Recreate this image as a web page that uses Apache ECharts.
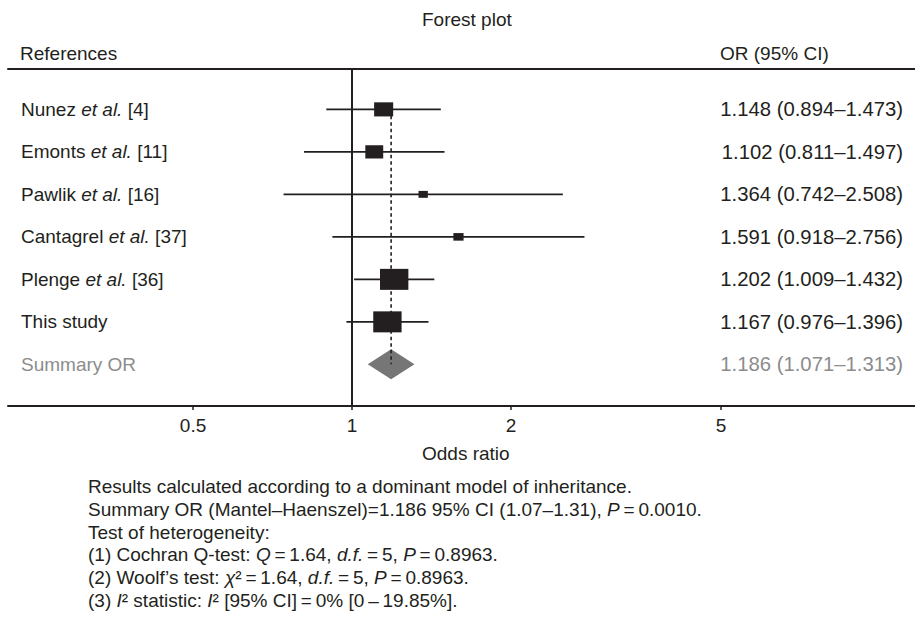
<!DOCTYPE html>
<html><head><meta charset="utf-8">
<script src="https://cdn.jsdelivr.net/npm/echarts@6/dist/echarts.min.js"></script>
<style>html,body{margin:0;padding:0;background:#fff}#c{width:915px;height:624px}</style>
</head><body><div id="c"></div>
<script>
// ---- data ----
const studies   = ['Nunez', 'Emonts', 'Pawlik', 'Cantagrel', 'Plenge', 'This study'];
const etAl      = [true, true, true, true, true, false];
const refs      = ['[4]', '[11]', '[16]', '[37]', '[36]', ''];
const orValues  = [1.148, 1.102, 1.364, 1.591, 1.202, 1.167];
const ciLow     = [0.894, 0.811, 0.742, 0.918, 1.009, 0.976];
const ciHigh    = [1.473, 1.497, 2.508, 2.756, 1.432, 1.396];
const weights   = [14.6, 12.9, 3.5, 4.2, 32.4, 32.4];   // estimated relative weights (box area)
const summaryLabel = 'Summary OR';
const summaryOR   = 1.186;
const summaryLow  = 1.071;
const summaryHigh = 1.313;
const tickValues  = [0.5, 1, 2, 5];
const tickLabels  = ['0.5', '1', '2', '5'];

// ---- styling ----
const INK = '#231f20';
const GREY_TXT = '#8c8c8c';
const GREY_FILL = '#767676';
const FONT = "'Liberation Sans', Arial, Helvetica, sans-serif";
const FS = 19;
const FS_CI = 20.3;

const nRows = studies.length + 1;
const rowPos = Array.from({length: nRows}, (_, i) => i + 1);
const fmt = v => v.toFixed(3);

const chart = echarts.init(document.getElementById('c'), null, {renderer: 'svg'});

const txt = {fontFamily: FONT, fontSize: FS, color: INK};
const richBase = {
  n: {fontFamily: FONT, fontSize: FS, color: INK},
  i: {fontFamily: FONT, fontSize: FS, color: INK, fontStyle: 'italic'},
  g: {fontFamily: FONT, fontSize: FS, color: GREY_TXT}
};
const richCI = {
  n: {fontFamily: FONT, fontSize: FS_CI, color: INK},
  g: {fontFamily: FONT, fontSize: FS_CI, color: GREY_TXT}
};

function rowLabel(v) {
  const k = Math.round(v) - 1;
  if (k === studies.length) return '{g|' + summaryLabel + '}';
  if (k < 0 || k > studies.length) return '';
  let s = '{n|' + studies[k] + '}';
  if (etAl[k]) s += '{n| }{i|et al.}';
  if (refs[k]) s += '{n| ' + refs[k] + '}';
  return s;
}
function ciLabel(v) {
  const k = Math.round(v) - 1;
  if (k === studies.length) return '{g|' + fmt(summaryOR) + ' (' + fmt(summaryLow) + '\u2013' + fmt(summaryHigh) + ')}';
  if (k < 0 || k > studies.length) return '';
  return '{n|' + fmt(orValues[k]) + ' (' + fmt(ciLow[k]) + '\u2013' + fmt(ciHigh[k]) + ')}';
}

const xMin = Math.pow(10, -344 / 528);
const xMax = Math.pow(10, 563 / 528);

const footLines = [
  'Results calculated according to a dominant model of inheritance.',
  'Summary OR (Mantel\u2013Haenszel)=1.186 95% CI (1.07\u20131.31), {i|P}\u2009=\u20090.0010.',
  'Test of heterogeneity:',
  '(1) Cochran Q-test: {i|Q}\u2009=\u20091.64, {i|d.f.}\u2009=\u20095, {i|P}\u2009=\u20090.8963.',
  '(2) Woolf\u2019s test: {i|\u03c7}\u00b2\u2009=\u20091.64, {i|d.f.}\u2009=\u20095, {i|P}\u2009=\u20090.8963.',
  '(3) {i|I}\u00b2 statistic: {i|I}\u00b2 [95% CI]\u2009=\u20090% [0\u2009\u2013\u200919.85%].'
];

const option = {
  animation: false,
  backgroundColor: '#fff',
  textStyle: {fontFamily: FONT},
  title: {
    text: 'Forest plot', left: 417, top: 5,
    textStyle: {fontFamily: FONT, fontSize: FS, fontWeight: 'normal', color: INK}
  },
  grid: {left: 8, right: 0, top: 69, bottom: 218, containLabel: false, outerBoundsMode: 'none'},
  xAxis: [{
    type: 'log', logBase: 10, min: xMin, max: xMax, position: 'bottom',
    axisLine: {show: true, lineStyle: {color: INK, width: 2}},
    axisTick: {show: true, customValues: tickValues, length: 4, inside: false, lineStyle: {color: INK, width: 1.5}},
    axisLabel: {show: true, customValues: tickValues, margin: 10, ...txt,
      formatter: v => { const k = tickValues.findIndex(t => Math.abs(t - v) < 1e-9); return k >= 0 ? tickLabels[k] : ''; }},
    splitLine: {show: false}, minorTick: {show: false}
  }, {
    type: 'log', logBase: 10, min: xMin, max: xMax, position: 'top',
    axisLine: {show: true, lineStyle: {color: INK, width: 2}},
    axisTick: {show: false}, axisLabel: {show: false}, splitLine: {show: false}
  }],
  yAxis: [{
    type: 'value', inverse: true, min: 0.05, max: 7.98, position: 'left',
    axisLine: {show: false}, axisTick: {show: false}, splitLine: {show: false},
    axisLabel: {show: true, inside: true, margin: 13, customValues: rowPos, formatter: rowLabel, rich: richBase, ...txt}
  }, {
    type: 'value', inverse: true, min: 0.05, max: 7.98, position: 'right',
    axisLine: {show: false}, axisTick: {show: false}, splitLine: {show: false},
    axisLabel: {show: true, inside: true, margin: 12, customValues: rowPos, formatter: ciLabel, rich: richCI,
      fontFamily: FONT, fontSize: FS_CI, color: INK}
  }],
  graphic: [
    {type: 'text', left: 20, top: 44, style: {text: 'References', font: FS + 'px ' + FONT, fill: INK}},
    {type: 'text', left: 720, top: 44, style: {text: 'OR (95% CI)', font: FS + 'px ' + FONT, fill: INK}},
    {type: 'text', left: 422, top: 444, style: {text: 'Odds ratio', font: FS + 'px ' + FONT, fill: INK}},
    {type: 'text', left: 88, top: 475, style: {
      text: footLines.join('\n'),
      font: FS + 'px ' + FONT, fill: INK, lineHeight: 22.8,
      rich: {
        i: {fontFamily: FONT, fontSize: FS, fontStyle: 'italic', fill: INK, lineHeight: 22.8}
      }
    }}
  ],
  series: [
    {
      name: 'ci', type: 'custom', xAxisIndex: 0, yAxisIndex: 0, z: 2,
      data: studies.map((s, i) => [ciLow[i], ciHigh[i], i + 1]),
      encode: {x: [0, 1], y: 2},
      renderItem: (params, api) => {
        const a = api.coord([api.value(0), api.value(2)]);
        const b = api.coord([api.value(1), api.value(2)]);
        return {type: 'line', shape: {x1: a[0], y1: a[1], x2: b[0], y2: b[1]}, style: {stroke: INK, lineWidth: 1.6}};
      },
      markLine: {
        silent: true, symbol: 'none', label: {show: false},
        lineStyle: {color: INK, width: 2, type: 'solid'},
        data: [{xAxis: 1}]
      }
    },
    {
      name: 'or', type: 'scatter', xAxisIndex: 0, yAxisIndex: 0, z: 3,
      symbol: 'rect',
      symbolSize: (val, params) => { const s = Math.sqrt(weights[params.dataIndex]) * 3.69; return [s * 1.35, s]; },
      itemStyle: {color: INK, opacity: 1},
      data: orValues.map((v, i) => [v, i + 1])
    },
    {
      name: 'summary', type: 'custom', xAxisIndex: 0, yAxisIndex: 0, z: 4,
      data: [[summaryLow, summaryOR, summaryHigh, nRows]],
      encode: {x: [0, 1, 2], y: 3},
      renderItem: (params, api) => {
        const l = api.coord([api.value(0), api.value(3)]);
        const c = api.coord([api.value(1), api.value(3)]);
        const r = api.coord([api.value(2), api.value(3)]);
        const h = 15;
        return {type: 'polygon', shape: {points: [[l[0], l[1]], [c[0], c[1] - h], [r[0], r[1]], [c[0], c[1] + h]]},
          style: {fill: GREY_FILL}};
      }
    },
    {
      name: 'summaryLine', type: 'custom', xAxisIndex: 0, yAxisIndex: 0, z: 5,
      data: [[summaryOR, 1, nRows]],
      encode: {x: 0, y: [1, 2]},
      renderItem: (params, api) => {
        const a = api.coord([api.value(0), api.value(1)]);
        const b = api.coord([api.value(0), api.value(2)]);
        return {type: 'line', shape: {x1: a[0], y1: a[1], x2: b[0], y2: b[1]},
          style: {stroke: INK, lineWidth: 1.6, lineDash: [3.5, 3]}};
      }
    }
  ]
};
chart.setOption(option);
</script></body></html>
